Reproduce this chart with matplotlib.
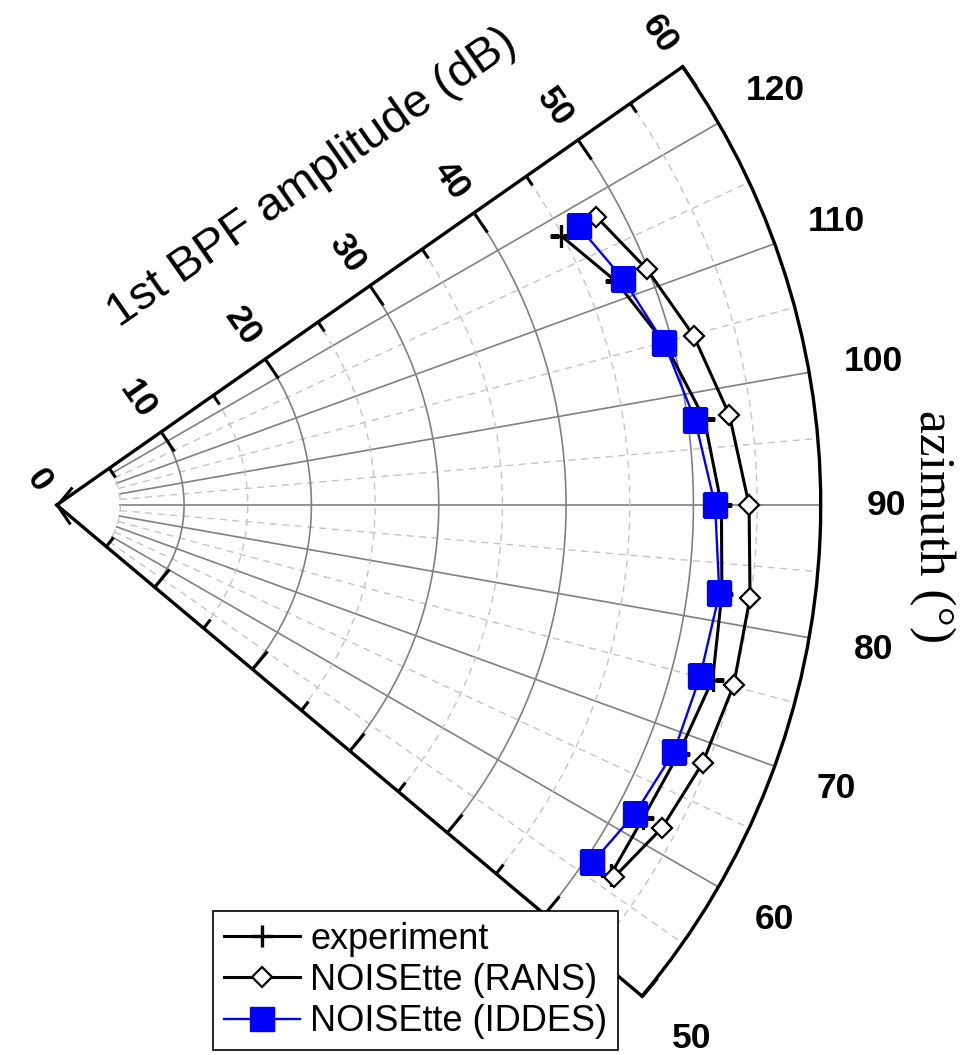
import numpy as np
import matplotlib
matplotlib.use("Agg")
import matplotlib.pyplot as plt

plt.rcParams['font.family'] = ['Liberation Sans', 'DejaVu Sans']
plt.rcParams['font.weight'] = 'bold'

# azimuth of each microphone (deg) and 1st BPF amplitude (dB)
azimuth = [118.1, 111.8, 104.9, 97.6, 90.0, 82.4, 75.1, 68.2, 61.9, 56.3]
experiment = [44.9, 47.3, 49.4, 51.3, 52.2, 52.7, 53.3, 52.6, 52.2, 52.3]
rans = [48.05, 49.9, 51.75, 53.3, 54.37, 54.93, 55.01, 54.62, 53.87, 52.64]
iddes = [46.46, 47.88, 49.37, 50.57, 51.70, 52.5, 52.29, 52.2, 51.47, 50.57]

az_ticks = [50, 60, 70, 80, 90, 100, 110, 120]
r_ticks = [0, 10, 20, 30, 40, 50, 60]

W, H = 972, 1055
fig = plt.figure(figsize=(W / 100, H / 100), dpi=100)
# wedge centre at (60, 505) px, 60 dB = 764 px
ax = fig.add_axes([-22.6 / W, 58.9 / H, 929.3 / W, 929.3 / H], projection='polar')
ax.set_theta_offset(np.radians(-90))
ax.set_thetamin(50)
ax.set_thetamax(125)
ax.set_rlim(0, 60)
ax.grid(False)

# grid: solid every 10, dashed every 5, starting at r = 5
tt = np.radians(np.linspace(50, 125, 300))
for a in range(55, 125, 5):
    solid = a % 10 == 0
    ax.plot([np.radians(a)] * 2, [5, 60], color='#808080' if solid else '#c4c4c4',
            lw=1.2 if solid else 1.0, ls='-' if solid else (0, (5, 4)), zorder=1)
for r in range(5, 60, 5):
    solid = r % 10 == 0
    ax.plot(tt, np.full_like(tt, r), color='#808080' if solid else '#c4c4c4',
            lw=1.2 if solid else 1.0, ls='-' if solid else (0, (5, 4)), zorder=1)

th = np.radians(azimuth)
ax.plot(th, experiment, color='black', lw=2.2, marker='+', ms=16, mew=2.4,
        label='experiment', zorder=3)
ax.plot(th, rans, color='black', lw=2.2, marker='D', ms=10.5, mfc='white',
        mec='black', mew=1.6, label='NOISEtte (RANS)', zorder=4)
ax.plot(th, iddes, color='#0000ff', lw=1.7, marker='s', ms=17, mfc='#0000ff',
        mec='#0000ff', label='NOISEtte (IDDES)', zorder=5)

ax.set_xticks(np.radians(az_ticks))
ax.set_xticklabels([str(a) for a in az_ticks])
ax.set_xticks(np.radians(np.arange(55, 120, 10)), minor=True)
ax.set_yticks(r_ticks)
ax.set_yticklabels([str(r) for r in r_ticks])
ax.set_yticks(np.arange(5, 60, 10), minor=True)

ax.tick_params(axis='x', which='major', direction='in', length=16.5, width=2.2,
               pad=40, labelsize=25.5)
ax.tick_params(axis='x', which='minor', direction='in', length=8.5, width=2.2)
ax.tick_params(axis='y', which='major', direction='in', length=16.5, width=2.2,
               left=True, right=True, labelleft=False, labelright=True,
               labelsize=25, pad=15, labelrotation='auto')
ax.tick_params(axis='y', which='minor', direction='in', length=8, width=2.2,
               left=True, right=True)
for s in ax.spines.values():
    s.set_linewidth(2.4)

leg = ax.legend(loc='lower left', bbox_to_anchor=(213 / W, 5 / H),
                bbox_transform=fig.transFigure, fancybox=False, edgecolor='black',
                framealpha=1, prop={'size': 26, 'weight': 'normal'},
                handlelength=2.1, handletextpad=0.3, borderpad=0.3,
                labelspacing=0.17, borderaxespad=0, numpoints=1)
leg.get_frame().set_linewidth(1.2)

fig.text(312 / W, 1 - 178 / H, '1st BPF amplitude (dB)', rotation=35,
         rotation_mode='anchor', ha='center', va='center', fontsize=34,
         weight='normal')
fig.text(932 / W, 1 - 527 / H, 'azimuth (\u00b0)', rotation=-90, ha='center',
         va='center', family=['Liberation Serif', 'DejaVu Serif'], fontsize=37,
         weight='normal')

fig.savefig('out.png', dpi=100)
